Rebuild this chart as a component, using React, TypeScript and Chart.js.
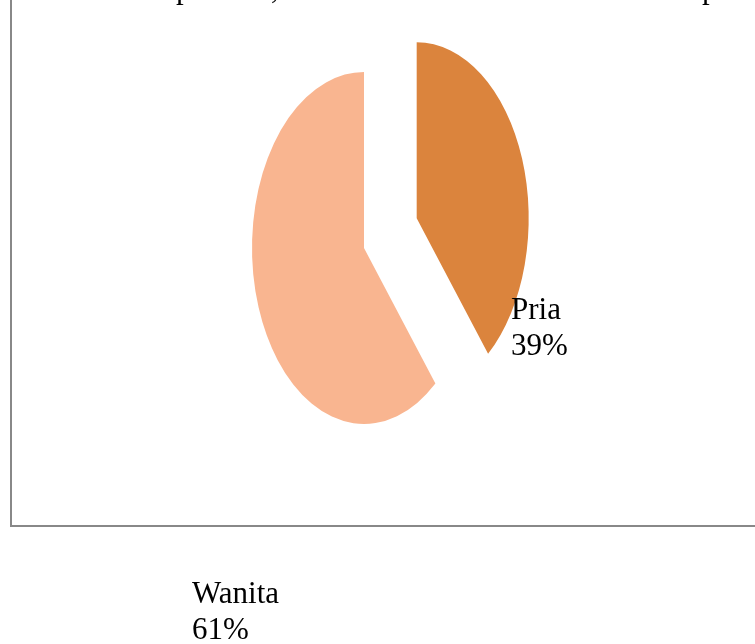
import { useEffect, useRef } from "react";
import { Chart, registerables } from "chart.js";

Chart.register(...registerables);

// ---- data ----
const categories = ["Pria", "Wanita"];
const values = [39, 61];
const percentLabels = ["39%", "61%"];
const sliceColors = ["#DB843D", "#F9B590"];
const explodeDistance = [88, 0];

const W = 755;
const H = 644;
const RADIUS = 176;
const SCALE_X = 112 / 176;
const FONT = "31px 'Liberation Serif', 'Times New Roman', serif";

const labelPos: Record<string, [number, number]> = {
  Pria: [511, 319],
  Wanita: [192, 603],
};

export default function App() {
  const ref = useRef<HTMLCanvasElement>(null);

  useEffect(() => {
    const canvas = ref.current;
    if (!canvas) return;

    const ellipsePlugin = {
      id: "ellipsePie",
      beforeDraw(chart: any) {
        const ctx = chart.ctx;
        ctx.save();
        ctx.fillStyle = "#ffffff";
        ctx.fillRect(0, 0, W, H);
        // frame (left and bottom edges visible)
        ctx.fillStyle = "#888888";
        ctx.fillRect(10, 0, 2, 527);
        ctx.fillRect(10, 525, W - 10, 2);
        // descenders of the text line above, cut off
        ctx.fillStyle = "#000000";
        ctx.font = FONT;
        ctx.textBaseline = "alphabetic";
        ctx.fillText("p", 176, -2);
        ctx.fillText(",", 271, -2);
        ctx.fillText("p", 702, -2);
        ctx.restore();
      },
      afterDatasetsUpdate(chart: any) {
        const meta = chart.getDatasetMeta(0);
        meta.data.forEach((arc: any, i: number) => {
          const d = explodeDistance[i] || 0;
          if (!d) return;
          const mid = (arc.startAngle + arc.endAngle) / 2;
          arc.x = arc.x + Math.cos(mid) * d;
          arc.y = arc.y + Math.sin(mid) * d;
        });
      },
      beforeDatasetsDraw(chart: any) {
        const ctx = chart.ctx;
        const ca = chart.chartArea;
        const cx = (ca.left + ca.right) / 2;
        ctx.save();
        ctx.translate(cx, 0);
        ctx.scale(SCALE_X, 1);
        ctx.translate(-cx, 0);
      },
      afterDatasetsDraw(chart: any) {
        chart.ctx.restore();
      },
      afterDraw(chart: any) {
        const ctx = chart.ctx;
        ctx.save();
        ctx.fillStyle = "#000000";
        ctx.font = FONT;
        ctx.textBaseline = "alphabetic";
        categories.forEach((c, i) => {
          const [x, y] = labelPos[c];
          ctx.fillText(c, x, y);
          ctx.fillText(percentLabels[i], x, y + 36);
        });
        ctx.restore();
      },
    };

    const chart = new Chart(canvas, {
      type: "pie",
      data: {
        labels: categories,
        datasets: [
          {
            data: values,
            backgroundColor: sliceColors,
            borderWidth: 0,
          },
        ],
      },
      options: {
        responsive: false,
        animation: false,
        events: [],
        radius: RADIUS,
        layout: { padding: { left: 0, right: 27, top: 0, bottom: 148 } },
        plugins: {
          legend: { display: false },
          title: { display: false },
          tooltip: { enabled: false },
        },
      } as any,
      plugins: [ellipsePlugin],
    });

    return () => chart.destroy();
  }, []);

  return (
    <div
      style={{
        position: "fixed",
        left: 0,
        top: 0,
        width: W,
        height: H,
        overflow: "hidden",
        background: "#fff",
      }}
    >
      <canvas
        ref={ref}
        width={W}
        height={H}
        style={{ display: "block", width: W, height: H }}
      />
    </div>
  );
}
